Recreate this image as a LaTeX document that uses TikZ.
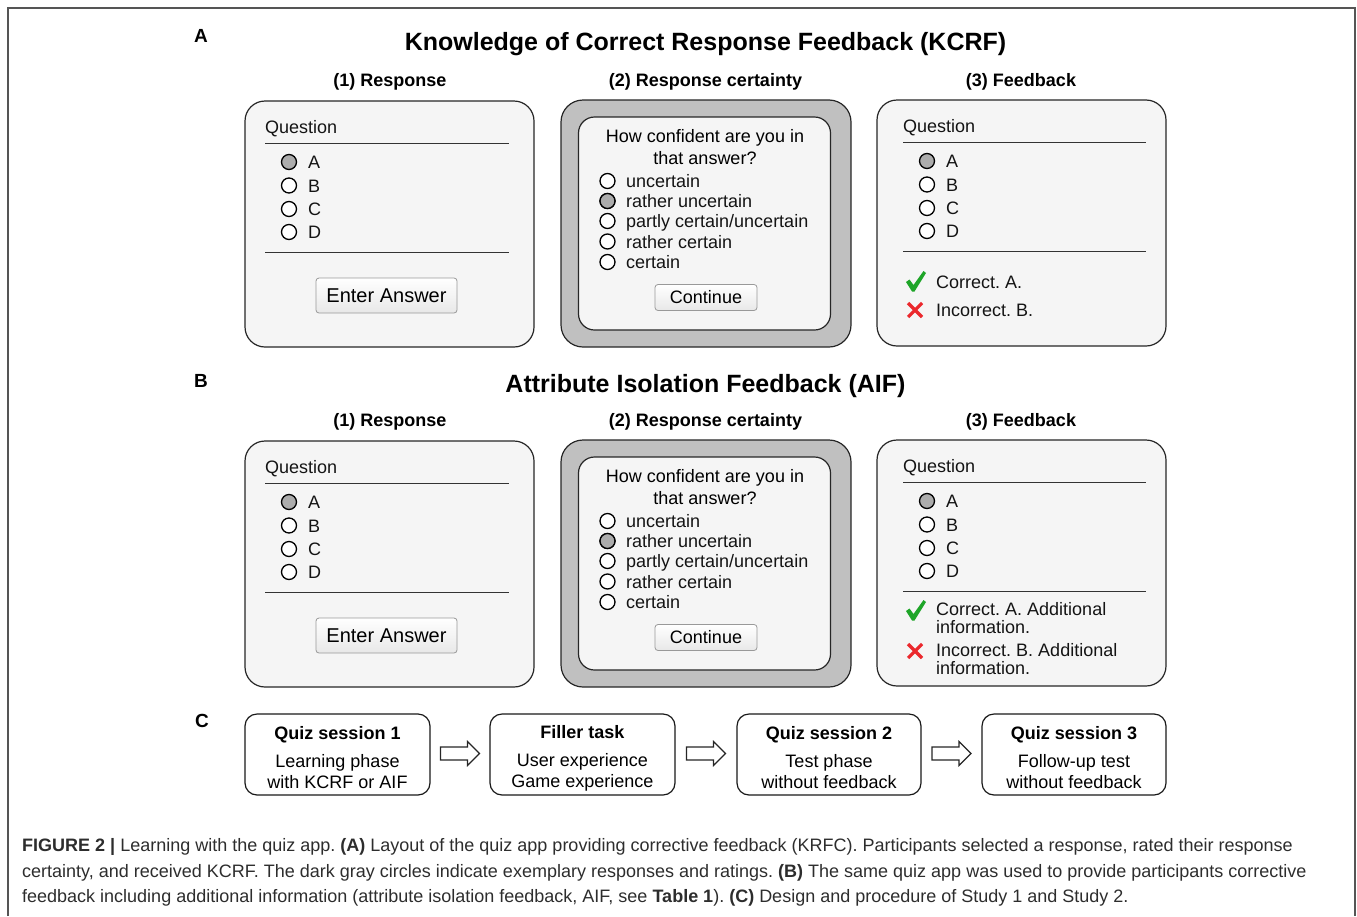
\documentclass[tikz,border=0pt]{standalone}
\usepackage{fontspec}
\setmainfont{Liberation Sans}
\usetikzlibrary{calc}
\definecolor{panelbg}{RGB}{245,245,245}
\definecolor{outergray}{RGB}{192,192,192}
\definecolor{selgray}{RGB}{172,172,172}
\definecolor{chkgreen}{RGB}{30,165,40}
\definecolor{xred}{RGB}{235,40,45}
\definecolor{captext}{RGB}{45,45,45}
\definecolor{framegray}{RGB}{85,85,85}
\frenchspacing
\begin{document}
\begin{tikzpicture}[x=1pt,y=-1pt,
  panel/.style={draw=black!85, line width=1.2pt, rounded corners=20pt, fill=panelbg, inner sep=0pt},
  outerpanel/.style={draw=black!85, line width=1.2pt, rounded corners=22pt, fill=outergray, inner sep=0pt},
  innerpanel/.style={draw=black!85, line width=1.2pt, rounded corners=16pt, fill=panelbg, inner sep=0pt},
  body/.style={font=\fontsize{18}{20}\selectfont, inner sep=0pt, text=black!92, anchor=base west},
  head/.style={font=\bfseries\fontsize{18}{20}\selectfont, inner sep=0pt, anchor=base},
  ttl/.style={font=\bfseries\fontsize{25}{28}\selectfont, inner sep=0pt, anchor=base},
  lbl/.style={font=\bfseries\fontsize{19}{20}\selectfont, inner sep=0pt, anchor=base},
  radio/.style={circle, draw=black, line width=1.3pt, fill=white, minimum size=15pt, inner sep=0pt},
  radiosel/.style={radio, fill=selgray},
  sep/.style={draw=black!80, line width=1pt},
  btn/.style={draw=black!40, line width=0.8pt, rounded corners=3pt, top color=white, bottom color=black!9, inner sep=0pt},
  flowbox/.style={draw=black!90, line width=1.2pt, rounded corners=12pt, fill=white, minimum width=185pt, minimum height=81pt, inner sep=0pt},
  flowtxt/.style={inner sep=0pt, align=center, font=\fontsize{18}{21}\selectfont},
  blockarr/.style={draw=black!85, line width=1.1pt, fill=white, line join=miter},
  chk/.style={fill=chkgreen, draw=none},
  xmark/.style={draw=xred, line width=3.2pt, line cap=butt},
]
\useasboundingbox (0,0) rectangle (1357,916);
% outer frame
\draw[framegray, line width=1.5pt] (8,916) -- (8,8) -- (1355,8) -- (1355,916);

% section labels and titles
\node[lbl] (labA) at (201,42) {A};
\node[ttl] (titA) at (705.5,50) {Knowledge of Correct Response Feedback (KCRF)};
\node[lbl] (labB) at (201,387) {B};
\node[ttl] (titB) at (705.5,392) {Attribute Isolation Feedback (AIF)};
\node[lbl] (labC) at (202,727) {C};

\foreach \row/\dy in {A/0, B/340} {
  % column headers
  \node[head] (h1\row) at (390,86.5+\dy) {(1) Response};
  \node[head] (h2\row) at (705.5,86.5+\dy) {(2) Response certainty};
  \node[head] (h3\row) at (1021,86.5+\dy) {(3) Feedback};

  % (1) response panel
  \node[panel, minimum width=289pt, minimum height=246pt] (resp\row) at (389.5,224+\dy) {};
  \node[body] (rq\row) at (265,133.5+\dy) {Question};
  \draw[sep] (265,143+\dy) -- (509,143+\dy);
  \draw[sep] (265,252+\dy) -- (509,252+\dy);
  \node[radiosel] (rrA\row) at (289,162+\dy) {};
  \node[radio] (rrB\row) at (289,185.5+\dy) {};
  \node[radio] (rrC\row) at (289,209+\dy) {};
  \node[radio] (rrD\row) at (289,232+\dy) {};
  \node[body] (rtA\row) at (308,168.5+\dy) {A};
  \node[body] (rtB\row) at (308,192+\dy) {B};
  \node[body] (rtC\row) at (308,215.5+\dy) {C};
  \node[body] (rtD\row) at (308,238.5+\dy) {D};
  \node[btn, minimum width=141pt, minimum height=35pt, font=\fontsize{20}{22}\selectfont] (enter\row) at (386.5,295.5+\dy) {Enter Answer};

  % (2) certainty panel
  \node[outerpanel, minimum width=290pt, minimum height=247pt] (certo\row) at (706,223.5+\dy) {};
  \node[innerpanel, minimum width=252pt, minimum height=213pt] (certi\row) at (704.5,223.5+\dy) {};
  \node[inner sep=0pt, align=center, font=\fontsize{18}{22}\selectfont] (cq\row) at (705,147+\dy) {How confident are you in\\that answer?};
  \foreach \i/\yy/\t in {1/181/{uncertain}, 2/201/{rather uncertain}, 3/221/{partly certain/uncertain}, 4/241.5/{rather certain}, 5/262/{certain}} {
    \node[radio] (cr\i\row) at (607.5,\yy+\dy) {};
    \node[body] (ct\i\row) at (626,\yy+6.5+\dy) {\t};
  }
  \node[radiosel] at (cr2\row) {};
  \node[btn, minimum width=102pt, minimum height=26pt, font=\fontsize{18}{20}\selectfont] (cont\row) at (706,297.5+\dy) {Continue};

  % (3) feedback panel
  \node[panel, minimum width=289pt, minimum height=246pt] (fb\row) at (1021.5,223+\dy) {};
  \node[body] (fq\row) at (903,132.5+\dy) {Question};
  \draw[sep] (903,142+\dy) -- (1146,142+\dy);
  \draw[sep] (903,251+\dy) -- (1146,251+\dy);
  \node[radiosel] (frA\row) at (927,161+\dy) {};
  \node[radio] (frB\row) at (927,184.5+\dy) {};
  \node[radio] (frC\row) at (927,208+\dy) {};
  \node[radio] (frD\row) at (927,231+\dy) {};
  \node[body] (ftA\row) at (946,167.5+\dy) {A};
  \node[body] (ftB\row) at (946,191+\dy) {B};
  \node[body] (ftC\row) at (946,214.5+\dy) {C};
  \node[body] (ftD\row) at (946,237.5+\dy) {D};
}

% feedback row A
\fill[chk] (906,282) -- (909.5,279.5) -- (913.5,285) -- (923.5,271) -- (926,273) -- (914.5,291.5) -- (912,291.5) -- cycle;
\node[body] (okA) at (936,288.5) {Correct. A.};
\draw[xmark] (908,303) -- (922,317) (908,317) -- (922,303);
\node[body] (noA) at (936,316.5) {Incorrect. B.};

% feedback row B
\fill[chk] (906,611) -- (909.5,608.5) -- (913.5,614) -- (923.5,600) -- (926,602) -- (914.5,620.5) -- (912,620.5) -- cycle;
\node[body, anchor=north west, align=left, font=\fontsize{18}{18}\selectfont] (okB) at (936,602) {Correct. A. Additional\\information.};
\draw[xmark] (908,644) -- (922,658) (908,658) -- (922,644);
\node[body, anchor=north west, align=left, font=\fontsize{18}{18}\selectfont] (noB) at (936,643) {Incorrect. B. Additional\\information.};

% (C) flow
\node[flowbox] (c1) at (337.5,754.5) {};
\node[flowbox] (c2) at (582.5,754.5) {};
\node[flowbox, minimum width=184pt] (c3) at (829,754.5) {};
\node[flowbox, minimum width=184pt] (c4) at (1074,754.5) {};
\node[flowtxt] (c1t) at ($(c1)+(0,3.5)$) {\textbf{Quiz session 1}\\[7pt]Learning phase\\with KCRF or AIF};
\node[flowtxt] (c2t) at ($(c2)+(0,3.5)$) {\textbf{Filler task}\\[7pt]User experience\\Game experience};
\node[flowtxt] (c3t) at ($(c3)+(0,3.5)$) {\textbf{Quiz session 2}\\[7pt]Test phase\\without feedback};
\node[flowtxt] (c4t) at ($(c4)+(0,3.5)$) {\textbf{Quiz session 3}\\[7pt]Follow-up test\\without feedback};
\foreach \a/\b in {c1/c2, c2/c3, c3/c4} {
  \coordinate (m\a) at ($(\a.east)!0.5!(\b.west)+(0,-1)$);
  \draw[blockarr] ([shift={(-19.5,-6.5)}]m\a) -- ([shift={(7.5,-6.5)}]m\a) -- ([shift={(7.5,-12)}]m\a) -- ([shift={(19.5,0)}]m\a) -- ([shift={(7.5,12)}]m\a) -- ([shift={(7.5,6.5)}]m\a) -- ([shift={(-19.5,6.5)}]m\a) -- cycle;
}

% caption
\node[anchor=base west, align=left, inner sep=0pt, text=captext, font=\fontsize{18}{25.5}\selectfont] (cap) at (22,902.5)
{\textbf{FIGURE 2 |} Learning with the quiz app. \textbf{(A)} Layout of the quiz app providing corrective feedback (KRFC). Participants selected a response, rated their response\\
certainty, and received KCRF. The dark gray circles indicate exemplary responses and ratings. \textbf{(B)} The same quiz app was used to provide participants corrective\\
feedback including additional information (attribute isolation feedback, AIF, see \textbf{Table 1}). \textbf{(C)} Design and procedure of Study 1 and Study 2.};
\end{tikzpicture}
\end{document}
